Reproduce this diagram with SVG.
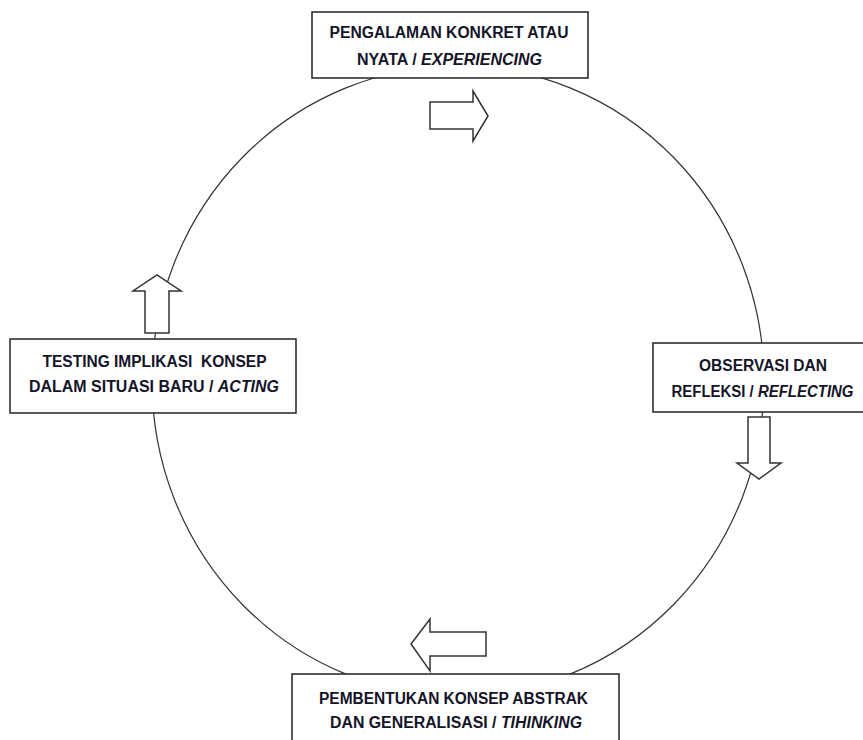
<svg xmlns="http://www.w3.org/2000/svg" width="863" height="740" viewBox="0 0 863 740">
<style>
.box{fill:#fff;stroke:#222;stroke-width:1.5}
.arr{fill:#fff;stroke:#333;stroke-width:1.5;stroke-linejoin:miter}
.cyc{fill:none;stroke:#333;stroke-width:1.2}
.t{font-family:"Liberation Sans",Arial,sans-serif;font-weight:bold;font-size:16px;fill:#141428;text-anchor:middle}
.i{font-style:italic}
</style>
<rect width="863" height="740" fill="#fff"/>
<g id="connectors">
<ellipse class="cyc" cx="458" cy="381" rx="306" ry="315"/>
<polygon class="arr" points="430,102 473,102 473,91 488,116 473,141 473,129 430,129"/>
<polygon class="arr" points="748,417 770,417 770,463 781,463 759,479 737,463 748,463"/>
<polygon class="arr" points="486,632 430,632 430,619 411,644 430,671 430,656 486,656"/>
<polygon class="arr" points="145,333 145,291 133,291 157,275 181,291 169,291 169,333"/>
</g>
<g id="experiencing">
<rect class="box" x="312" y="12" width="276" height="66"/>
<text class="t" x="449" y="38" textLength="239" lengthAdjust="spacingAndGlyphs">PENGALAMAN KONKRET ATAU</text>
<text class="t" x="449.5" y="65" textLength="185" lengthAdjust="spacingAndGlyphs">NYATA / <tspan class="i">EXPERIENCING</tspan></text>
</g>
<g id="reflecting">
<rect class="box" x="653" y="343" width="222" height="69"/>
<text class="t" x="763" y="371" textLength="128" lengthAdjust="spacingAndGlyphs">OBSERVASI DAN</text>
<text class="t" x="762.5" y="397" textLength="182" lengthAdjust="spacingAndGlyphs">REFLEKSI / <tspan class="i">REFLECTING</tspan></text>
</g>
<g id="thinking">
<rect class="box" x="292" y="674" width="327" height="80"/>
<text class="t" x="453.5" y="704" textLength="269" lengthAdjust="spacingAndGlyphs">PEMBENTUKAN KONSEP ABSTRAK</text>
<text class="t" x="456" y="728" textLength="252" lengthAdjust="spacingAndGlyphs">DAN GENERALISASI / <tspan class="i">TIHINKING</tspan></text>
</g>
<g id="acting">
<rect class="box" x="10" y="339" width="286" height="74"/>
<text class="t" x="154.5" y="367" textLength="224" lengthAdjust="spacingAndGlyphs" xml:space="preserve">TESTING IMPLIKASI  KONSEP</text>
<text class="t" x="154" y="392" textLength="250" lengthAdjust="spacingAndGlyphs">DALAM SITUASI BARU / <tspan class="i">ACTING</tspan></text>
</g>
</svg>
